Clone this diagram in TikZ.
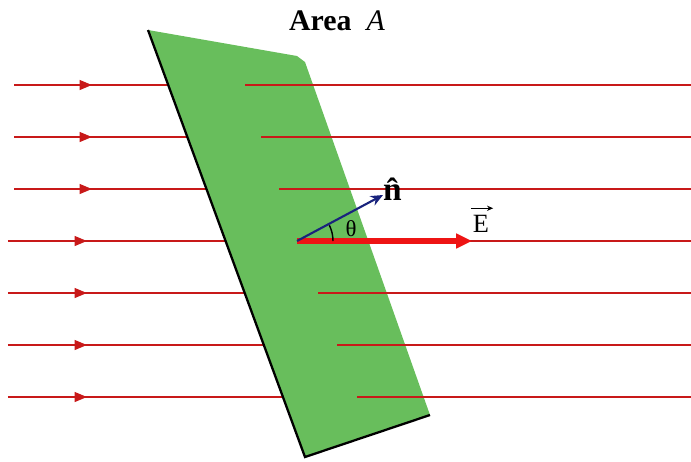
\documentclass[tikz,border=0pt]{standalone}
\usepackage{fontspec}
\setmainfont{Liberation Serif}
\usetikzlibrary{calc, positioning}
\usetikzlibrary{arrows.meta}

\definecolor{plategreen}{RGB}{104,190,92}
\definecolor{fieldred}{RGB}{200,25,25}
\definecolor{ered}{RGB}{238,20,20}
\definecolor{nblue}{RGB}{25,35,125}

\tikzset{
  field/.style={fieldred, line width=1.1pt},
  edge/.style={black, line width=1.3pt},
  Earrow/.style={ered, line width=3.4pt, -{Triangle[length=9pt,width=8pt]}},
  narrow/.style={nblue, line width=1.2pt, -{Stealth[length=7pt,width=6pt]}},
}

\begin{document}
\begin{tikzpicture}[x=0.02cm, y=0.02cm]
\useasboundingbox (0,0) rectangle (691,-461);

\coordinate (P1) at (148,-30);
\coordinate (P2) at (303,-57);
\coordinate (P3) at (430,-415);
\coordinate (P4) at (305,-457);
\coordinate (O) at (297,-241);
\coordinate (N) at (383,-195);
\coordinate (Etip) at (472,-241);

% field lines, full width (the plate hides the middle)
\foreach \y/\xs/\xa in {85/14/92, 137/14/92, 189/14/92, 241/8/87, 293/8/87, 345/8/87, 397/8/87} {
  \draw[field, -{Triangle[length=7pt,width=5.5pt]}] (\xs,-\y) -- (\xa,-\y);
  \draw[field] (\xa-2,-\y) -- (691,-\y);
}

% the plate
\fill[plategreen] (P1) -- ($(P2)+(-6,1)$) -- ($(P2)+(2,-5)$) -- (P3) -- (P4) -- cycle;
\draw[edge] (P3) -- (P4) -- (P1);

% lines in front of the plate
\foreach \y/\xr in {85/245, 137/261, 189/279, 293/318, 345/337, 397/357} {
  \draw[field] (\xr,-\y) -- (691,-\y);
}
\draw[field] ($(Etip)+(3,0)$) -- (691,-241);

% vectors
\draw[Earrow] (O) -- (Etip);
\draw[narrow] (O) -- (N);
\draw[black, line width=0.8pt] ($(O)+(36,0)$) arc[start angle=0, end angle=26, radius=36];

\node (title) at (337,-21) {\fontsize{17}{20}\selectfont\textbf{Area}~~\textit{A}};
\node (nlab) at (395,-189) {\fontsize{19}{22}\selectfont\textbf{\^{n}}};
\node[inner sep=1pt] (Elab) at (481,-224) {\fontsize{15}{18}\selectfont E};
\draw[black, line width=0.6pt, -{Stealth[length=3.5pt,width=3pt]}]
  ($(Elab.north west)+(0,5)$) -- ($(Elab.north east)+(2,5)$);
\node (theta) at (351,-229) {\fontsize{13}{15}\selectfont θ};
\end{tikzpicture}
\end{document}
